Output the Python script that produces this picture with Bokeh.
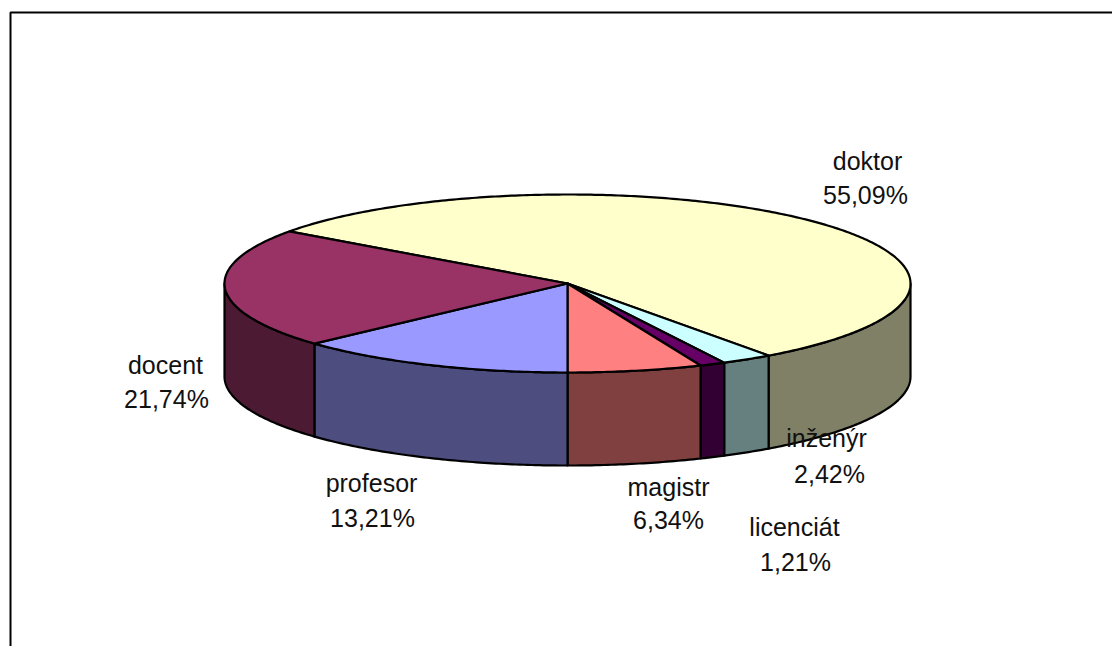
import math
from bokeh.plotting import figure
from bokeh.embed import file_html
from bokeh.resources import INLINE
from bokeh.core.properties import value

categories = ["doktor", "inženýr", "licenciát", "magistr", "profesor", "docent"]
shares = [55.09, 2.42, 1.21, 6.34, 13.21, 21.74]
share_labels = ["55,09%", "2,42%", "1,21%", "6,34%", "13,21%", "21,74%"]
top_colors = ["#FFFFCC", "#CCFFFF", "#660066", "#FF8080", "#9999FF", "#993366"]
side_colors = ["#808066", "#668080", "#330033", "#804040", "#4D4D80", "#4D1A33"]
name_x = [867, 826, 794, 668, 371, 165]
name_y = [160, 437, 526, 486, 482, 364]
share_x = [865, 829, 795, 668, 372, 166]
share_y = [194, 473, 561, 519, 517, 398]

START_DEG = -54.2
CX, CY, RX, RY, DEPTH = 567.0, 283.0, 343.0, 89.0, 93.0
W, H = 1112, 646
FONT = value("Liberation Sans")

p = figure(width=W, height=H, x_range=(0, W), y_range=(H, 0),
           output_backend="svg", toolbar_location=None, min_border=0,
           background_fill_color="white", outline_line_color=None)
p.xaxis.visible = False
p.yaxis.visible = False
p.grid.visible = False

p.line([10, 10, W], [H, 12, 12], line_color="black", line_width=2)


def rim(a0, a1):
    n = max(2, int(abs(a1 - a0) * 1.5))
    return [a0 + (a1 - a0) * i / n for i in range(n + 1)]


def px(a):
    return CX + RX * math.sin(math.radians(a))


def py(a):
    return CY - RY * math.cos(math.radians(a))


bounds = [START_DEG]
for s in shares:
    bounds.append(bounds[-1] + s / sum(shares) * 360)

# Side walls: only the front half of the ellipse is visible
for i in range(len(shares)):
    lo, hi = max(bounds[i], 90), min(bounds[i + 1], 270)
    if lo >= hi:
        continue
    pts = rim(lo, hi)
    xs = [px(a) for a in pts]
    ys = [py(a) for a in pts]
    p.patch(xs + xs[::-1], ys + [y + DEPTH for y in ys[::-1]],
            fill_color=side_colors[i], line_color="black", line_width=2.2,
            line_join="round")

# Top faces
for i in range(len(shares)):
    pts = rim(bounds[i], bounds[i + 1])
    xs = [CX] + [px(a) for a in pts]
    ys = [CY] + [py(a) for a in pts]
    p.patch(xs, ys, fill_color=top_colors[i], line_color="black",
            line_width=2.2, line_join="round")

for xs, ys, txt in ((name_x, name_y, categories), (share_x, share_y, share_labels)):
    p.text(xs, ys, text=txt, text_font=FONT, text_font_size="25px",
           text_color="#111111", text_align="center", text_baseline="middle")

open("out.html", "w").write(file_html(p, INLINE))
